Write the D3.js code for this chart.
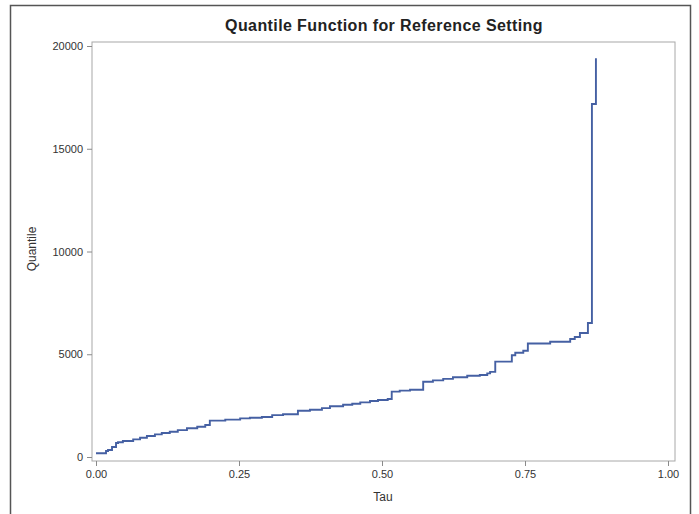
<!DOCTYPE html>
<html>
<head>
<meta charset="utf-8">
<script src="https://cdn.jsdelivr.net/npm/d3@7"></script>
<style>
  body { margin: 0; background: #fff; }
  svg text { font-family: "Liberation Sans", Arial, sans-serif; }
</style>
</head>
<body>
<div id="chart"></div>
<script>
// step points of the quantile function (tau where each step starts, quantile value)
var tau = [0.000, 0.0175, 0.021, 0.028, 0.035, 0.0385, 0.047, 0.065, 0.077, 0.089,
  0.103, 0.115, 0.129, 0.143, 0.159, 0.177, 0.191, 0.199, 0.226, 0.252,
  0.269, 0.290, 0.308, 0.327, 0.353, 0.374, 0.395, 0.409, 0.432, 0.448,
  0.462, 0.479, 0.493, 0.510, 0.517, 0.531, 0.549, 0.572, 0.589, 0.607,
  0.624, 0.649, 0.671, 0.684, 0.689, 0.698, 0.727, 0.733, 0.747, 0.755,
  0.794, 0.829, 0.837, 0.846, 0.860, 0.867, 0.874];
var quantile = [180, 290, 340, 490, 680, 715, 780, 860, 940, 1020,
  1100, 1170, 1230, 1310, 1400, 1470, 1560, 1770, 1820, 1880,
  1910, 1950, 2040, 2080, 2250, 2300, 2380, 2470, 2545, 2590,
  2660, 2725, 2775, 2820, 3180, 3230, 3275, 3665, 3730, 3800,
  3880, 3955, 3990, 4070, 4140, 4640, 4950, 5075, 5170, 5520,
  5610, 5740, 5840, 6035, 6520, 17180, 19400];
var xTicks = [0, 0.25, 0.5, 0.75, 1];
var yTicks = [0, 5000, 10000, 15000, 20000];

var width = 699;
var height = 514;
var data = tau.map(function(t, i) { return {tau: t, q: quantile[i]}; });

var svg = d3.select("#chart").append("svg").attr("width", width).attr("height", height);

// outer frame
svg.append("rect").attr("x", 10.5).attr("y", 5.5).attr("width", 680).attr("height", 520)
  .attr("fill", "none").attr("stroke", "#555").attr("stroke-width", 1.5);

var x = d3.scaleLinear().domain([0, 1]).range([96, 668]);
var y = d3.scaleLinear().domain([0, 20000]).range([457, 46]);

// plot area border
svg.append("rect").attr("x", 92).attr("y", 42).attr("width", 583).attr("height", 419)
  .attr("fill", "none").attr("stroke", "#a8a8a8").attr("stroke-width", 1);

svg.append("g").attr("transform", "translate(0,461)")
  .call(d3.axisBottom(x).tickValues(xTicks).tickFormat(d3.format(".2f")).tickSize(5).tickPadding(4))
  .call(function(g) {
    g.select(".domain").remove();
    g.selectAll("line").attr("stroke", "#8a8a8a");
    g.selectAll("text").attr("fill", "#333").style("font-size", "11px");
  });

svg.append("g").attr("transform", "translate(92,0)")
  .call(d3.axisLeft(y).tickValues(yTicks).tickFormat(d3.format("d")).tickSize(5).tickPadding(4))
  .call(function(g) {
    g.select(".domain").remove();
    g.selectAll("line").attr("stroke", "#8a8a8a");
    g.selectAll("text").attr("fill", "#333").style("font-size", "11px");
  });

var line = d3.line()
  .x(function(d) { return x(d.tau); })
  .y(function(d) { return y(d.q); })
  .curve(d3.curveStepAfter);

svg.append("path").datum(data)
  .attr("d", line)
  .attr("fill", "none")
  .attr("stroke", "#4560a3")
  .attr("stroke-width", 1.9);

svg.append("text").attr("x", 384).attr("y", 31).attr("text-anchor", "middle")
  .style("font-size", "16px").style("font-weight", "bold").style("letter-spacing", "0.4px")
  .attr("fill", "#222")
  .text("Quantile Function for Reference Setting");

svg.append("text").attr("x", 383).attr("y", 501).attr("text-anchor", "middle")
  .style("font-size", "12px").attr("fill", "#333").text("Tau");

svg.append("text").attr("transform", "translate(36,249) rotate(-90)").attr("text-anchor", "middle")
  .style("font-size", "12px").attr("fill", "#333").text("Quantile");
</script>
</body>
</html>
